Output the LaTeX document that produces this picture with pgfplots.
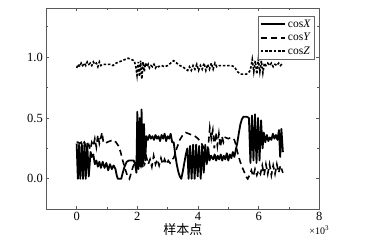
\documentclass[border=0pt]{standalone}
\usepackage{pgfplots}
\pgfplotsset{compat=1.18}
\usepackage{fontspec}
\setmainfont{Liberation Serif}
\newfontfamily\cjk{Noto Sans CJK SC}
\begin{document}
\begin{tikzpicture}
\path[use as bounding box] (0pt,0pt) rectangle (369pt,249pt);
\begin{axis}[
  at={(46.3pt,39.7pt)}, anchor=south west,
  scale only axis, width=273pt, height=201pt,
  xmin=-1, xmax=8, ymin=-0.25, ymax=1.4,
  xtick={0,2,4,6,8}, ytick={0,0.5,1.0},
  minor xtick={-1,1,3,5,7}, minor ytick={-0.25,0.25,0.75,1.25},
  tick align=inside, major tick length=3pt, minor tick length=2pt,
  axis line style={black!65, line width=0.9pt},
  every tick/.style={black!65, line width=0.7pt},
  yticklabel style={/pgf/number format/.cd, fixed, fixed zerofill, precision=1, assume math mode=true},
  xticklabel style={/pgf/number format/assume math mode=true, yshift=1pt},
  ticklabel style={font=\rmfamily\fontsize{12.5}{14}\selectfont},
  xlabel={\cjk 样本点}, xlabel style={font=\fontsize{13}{15}\selectfont, yshift=4pt},
  legend style={at={(rel axis cs:0.984,0.962)}, anchor=north east, draw=black!60, line width=0.5pt,
    font=\rmfamily\fontsize{11.5}{12}\selectfont, inner xsep=2pt, inner ysep=1.5pt, row sep=0.5pt},
  legend cell align=left,
  legend image code/.code={\draw[#1] (0cm,0cm) -- (0.85cm,0cm);},
  clip=false,
]
\addplot[black, line width=1.8pt, line join=round] coordinates {
(0,0.29)(0.04,0.0)(0.08,0.28)(0.12,0.0)(0.17,0.29)(0.21,0.0)(0.26,0.3)(0.3,0.0)(0.35,0.29)(0.4,0.02)(0.46,0.22)(0.5,0.18)(0.55,0.2)(0.6,0.12)(0.65,0.15)(0.7,0.1)(0.75,0.14)(0.8,0.09)(0.86,0.14)(0.92,0.09)(0.98,0.13)(1.04,0.07)(1.1,0.12)(1.16,0.08)(1.22,0.11)(1.28,0.08)(1.32,0.03)(1.36,0.0)(1.47,0.0)(1.52,0.05)(1.58,0.1)(1.65,0.14)(1.72,0.15)(1.8,0.15)(1.88,0.15)(1.93,0.12)(1.97,0.05)(2.0,0.55)(2.04,0.08)(2.08,0.5)(2.11,0.1)(2.14,0.57)(2.18,0.1)(2.22,0.45)(2.26,0.15)(2.3,0.35)(2.35,0.32)(2.4,0.36)(2.45,0.33)(2.5,0.35)(2.55,0.32)(2.6,0.36)(2.65,0.33)(2.7,0.35)(2.75,0.31)(2.8,0.36)(2.85,0.33)(2.9,0.37)(2.95,0.31)(3.0,0.35)(3.05,0.33)(3.1,0.37)(3.15,0.3)(3.2,0.3)(3.25,0.2)(3.3,0.12)(3.35,0.06)(3.4,0.02)(3.45,0.0)(3.5,0.06)(3.55,0.13)(3.6,0.2)(3.65,0.25)(3.69,0.0)(3.74,0.27)(3.79,0.0)(3.84,0.28)(3.89,0.0)(3.94,0.28)(3.99,0.02)(4.04,0.27)(4.09,0.0)(4.14,0.28)(4.19,0.05)(4.24,0.28)(4.29,0.12)(4.34,0.25)(4.38,0.15)(4.43,0.19)(4.5,0.16)(4.55,0.2)(4.6,0.15)(4.65,0.19)(4.7,0.16)(4.75,0.2)(4.8,0.15)(4.85,0.19)(4.9,0.16)(4.95,0.21)(5.0,0.15)(5.05,0.2)(5.1,0.17)(5.15,0.22)(5.2,0.18)(5.25,0.24)(5.3,0.3)(5.35,0.38)(5.4,0.45)(5.45,0.49)(5.5,0.51)(5.6,0.51)(5.68,0.5)(5.73,0.13)(5.78,0.52)(5.83,0.15)(5.88,0.53)(5.93,0.13)(5.98,0.5)(6.03,0.15)(6.08,0.48)(6.13,0.25)(6.17,0.38)(6.22,0.3)(6.27,0.36)(6.32,0.31)(6.37,0.34)(6.42,0.32)(6.47,0.37)(6.52,0.33)(6.57,0.36)(6.62,0.32)(6.67,0.4)(6.71,0.18)(6.75,0.41)(6.8,0.22)
};
\addlegendentry{cos\textit{X}}
\addplot[black, line width=1.6pt, dash pattern=on 6pt off 4pt] coordinates {
(0,0.3)(0.05,0.3)(0.1,0.29)(0.15,0.3)(0.2,0.28)(0.25,0.3)(0.3,0.27)(0.35,0.25)(0.4,0.28)(0.45,0.24)(0.5,0.3)(0.55,0.27)(0.6,0.33)(0.65,0.26)(0.7,0.36)(0.75,0.29)(0.8,0.34)(0.84,0.38)(0.88,0.3)(0.95,0.29)(1.0,0.3)(1.1,0.31)(1.2,0.32)(1.3,0.3)(1.38,0.27)(1.45,0.22)(1.52,0.15)(1.6,0.08)(1.68,0.02)(1.74,0.0)(1.8,0.05)(1.86,0.1)(1.92,0.13)(1.98,0.15)(2.03,0.12)(2.08,0.2)(2.13,0.11)(2.18,0.15)(2.24,0.12)(2.3,0.18)(2.36,0.12)(2.42,0.16)(2.48,0.1)(2.54,0.19)(2.6,0.12)(2.66,0.16)(2.72,0.11)(2.78,0.17)(2.84,0.12)(2.9,0.16)(2.96,0.12)(3.02,0.15)(3.08,0.13)(3.14,0.16)(3.2,0.17)(3.3,0.25)(3.4,0.32)(3.5,0.36)(3.6,0.38)(3.7,0.37)(3.8,0.36)(3.9,0.35)(4.0,0.33)(4.1,0.3)(4.2,0.25)(4.3,0.22)(4.35,0.3)(4.39,0.42)(4.44,0.33)(4.49,0.4)(4.54,0.25)(4.59,0.38)(4.64,0.27)(4.69,0.37)(4.74,0.26)(4.79,0.35)(4.84,0.3)(4.9,0.34)(5.0,0.33)(5.1,0.34)(5.2,0.32)(5.25,0.28)(5.3,0.22)(5.38,0.15)(5.45,0.1)(5.52,0.06)(5.58,0.02)(5.64,0.0)(5.7,0.03)(5.76,0.07)(5.82,0.02)(5.88,0.08)(5.94,0.03)(6.0,0.07)(6.06,0.04)(6.12,0.11)(6.18,0.03)(6.24,0.12)(6.3,0.04)(6.36,0.12)(6.42,0.03)(6.48,0.11)(6.54,0.04)(6.6,0.12)(6.66,0.05)(6.72,0.11)(6.8,0.05)
};
\addlegendentry{cos\textit{Y}}
\addplot[black, line width=1.6pt, dash pattern=on 2.5pt off 1.8pt] coordinates {
(0,0.91)(0.05,0.94)(0.1,0.92)(0.15,0.95)(0.2,0.93)(0.25,0.95)(0.3,0.93)(0.35,0.96)(0.4,0.94)(0.45,0.95)(0.5,0.93)(0.55,0.96)(0.6,0.94)(0.65,0.95)(0.7,0.92)(0.75,0.96)(0.8,0.93)(0.85,0.94)(0.9,0.94)(1.0,0.94)(1.1,0.94)(1.2,0.93)(1.3,0.95)(1.4,0.96)(1.5,0.97)(1.6,0.98)(1.7,0.99)(1.8,0.98)(1.9,0.97)(1.95,0.92)(1.99,0.85)(2.03,0.96)(2.07,0.84)(2.11,0.97)(2.15,0.82)(2.19,0.96)(2.23,0.88)(2.27,0.95)(2.32,0.92)(2.36,0.94)(2.4,0.91)(2.45,0.93)(2.5,0.92)(2.55,0.94)(2.6,0.91)(2.65,0.93)(2.7,0.92)(2.8,0.93)(2.9,0.92)(3.0,0.93)(3.1,0.95)(3.2,0.97)(3.3,0.95)(3.4,0.93)(3.5,0.92)(3.6,0.9)(3.66,0.89)(3.72,0.92)(3.78,0.89)(3.84,0.93)(3.9,0.9)(3.96,0.94)(4.02,0.89)(4.08,0.93)(4.14,0.9)(4.2,0.95)(4.26,0.89)(4.32,0.94)(4.38,0.9)(4.44,0.95)(4.5,0.9)(4.56,0.95)(4.62,0.92)(4.7,0.93)(4.8,0.93)(4.9,0.93)(5.0,0.93)(5.1,0.93)(5.2,0.92)(5.3,0.88)(5.4,0.86)(5.5,0.86)(5.6,0.86)(5.7,0.88)(5.75,0.92)(5.79,0.98)(5.84,0.88)(5.89,0.97)(5.94,0.86)(5.99,0.98)(6.04,0.88)(6.09,0.97)(6.14,0.87)(6.19,0.95)(6.24,0.93)(6.3,0.95)(6.36,0.93)(6.42,0.95)(6.48,0.92)(6.54,0.94)(6.6,0.93)(6.66,0.95)(6.72,0.93)(6.8,0.95)
};
\addlegendentry{cos\textit{Z}}
\node[font=\rmfamily\fontsize{10}{11}\selectfont, anchor=north] at ([yshift=-13pt]rel axis cs:1,0) {×10\textsuperscript{3}};
\end{axis}
\end{tikzpicture}
\end{document}
